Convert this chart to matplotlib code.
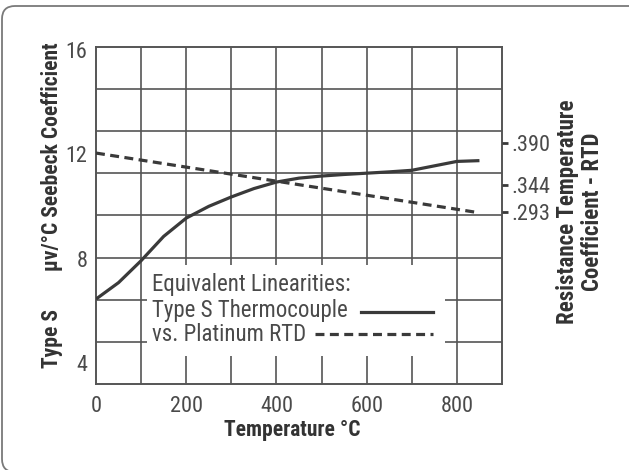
from matplotlib import pyplot as plt
from matplotlib.patches import FancyBboxPatch, Rectangle
from matplotlib.transforms import IdentityTransform
import numpy as np

# Type S thermocouple Seebeck coefficient (uV/C) vs temperature
temp_s = [0, 50, 100, 150, 200, 250, 300, 350, 400, 450, 500, 550, 600,
          650, 700, 750, 800, 850]
seebeck_s = [6.45, 7.08, 7.92, 8.85, 9.55, 10.0, 10.36, 10.68, 10.93, 11.08,
             11.16, 11.22, 11.27, 11.32, 11.38, 11.55, 11.72, 11.75]

# platinum RTD line (drawn on the left scale)
temp_rtd = [0, 840]
rtd_line = [12.04, 9.78]

x_ticks = [0, 200, 400, 600, 800]
y_ticks = [4, 8, 12, 16]
rtd_tick_pos = [12.42, 10.82, 9.78]
rtd_tick_labels = ['.390', '.344', '.293']

FONT = ['Roboto Condensed', 'Archivo Narrow', 'Barlow Semi Condensed', 'DejaVu Sans']
BOLD = ['Roboto Condensed', 'Barlow Semi Condensed', 'Asap Condensed', 'DejaVu Sans']
plt.rcParams['font.family'] = FONT

ink = '#3a3a3a'
grid = '#555555'
txt = '#4a4a4a'

fig = plt.figure(figsize=(6.29, 4.70), dpi=100)
fig.patch.set_facecolor('white')

# outer rounded frame (runs off the right and bottom edge)
frame = FancyBboxPatch((2, -2), 760, 466, boxstyle='round,pad=0,rounding_size=13',
                       transform=IdentityTransform(), facecolor='none',
                       edgecolor='#7a7a7a', lw=1.3, clip_on=False)
fig.add_artist(frame)

ax = fig.add_axes([0.1526, 0.183, 0.6455, 0.717])
ylo, yhi = 3.2, 16.1
ax.set_xlim(0, 900)
ax.set_ylim(ylo, yhi)

for xv in range(100, 900, 100):
    ax.axvline(xv, color=grid, lw=1.2, zorder=1)
for yv in np.linspace(ylo, yhi, 9)[1:-1]:
    ax.axhline(yv, color=grid, lw=1.2, zorder=1)

for s in ax.spines.values():
    s.set_color(grid)
    s.set_linewidth(1.4)

# legend box
ax.add_patch(Rectangle((113, 4.27), 661, 3.49, facecolor='white',
                       edgecolor='none', zorder=2))

ax.plot(temp_s, seebeck_s, color=ink, lw=2.3, zorder=3, solid_capstyle='butt')
ax.plot(temp_rtd, rtd_line, color=ink, lw=2.3, dashes=(2.8, 1.7), zorder=3)

ax.text(124, 6.99, 'Equivalent Linearities:', fontsize=16.5, color=txt,
        va='center', zorder=4)
ax.text(124, 6.03, 'Type S Thermocouple', fontsize=16.5, color=txt,
        va='center', zorder=4)
ax.text(124, 5.08, 'vs. Platinum RTD', fontsize=16.5, color=txt,
        va='center', zorder=4)
ax.plot([588, 747], [5.96, 5.96], color=ink, lw=2.3, zorder=4)
ax.plot([486, 747], [5.11, 5.11], color=ink, lw=2.3, dashes=(2.8, 1.7), zorder=4)

ax.set_xticks(x_ticks)
ax.set_xticklabels([str(v) for v in x_ticks])
ax.set_yticks(y_ticks)
ax.set_yticklabels([str(v) for v in y_ticks])
ax.tick_params(axis='both', length=0, labelsize=16, labelcolor=txt)
ax.tick_params(axis='x', pad=9)
ax.tick_params(axis='y', pad=6)

ax2 = ax.twinx()
ax2.set_ylim(ylo, yhi)
ax2.set_yticks(rtd_tick_pos)
ax2.set_yticklabels(rtd_tick_labels)
ax2.tick_params(axis='y', length=4, width=2, color=ink, labelsize=16,
                labelcolor=txt, pad=3)
for s in ax2.spines.values():
    s.set_visible(False)

fig.text(292 / 629, 1 - 430 / 470, 'Temperature \u00b0C', fontsize=15.5,
         family=BOLD, fontweight='bold', color='#333333', ha='center', va='center')
fig.text(52 / 629, 1 - 157 / 470, '\u00b5v/\u00b0C Seebeck Coefficient',
         fontsize=15.5, family=BOLD, fontweight='bold', color='#333333', rotation=90,
         ha='center', va='center')
fig.text(52 / 629, 1 - 339 / 470, 'Type S', fontsize=15.5, family=BOLD,
         fontweight='bold', color='#333333', rotation=90, ha='center', va='center')
fig.text(580 / 629, 1 - 212 / 470, 'Resistance Temperature\nCoefficient - RTD',
         fontsize=16.5, family=BOLD, fontweight='bold', color='#333333', rotation=90,
         ha='center', va='center', multialignment='center', linespacing=1.15)

fig.savefig('out.png', dpi=100)
